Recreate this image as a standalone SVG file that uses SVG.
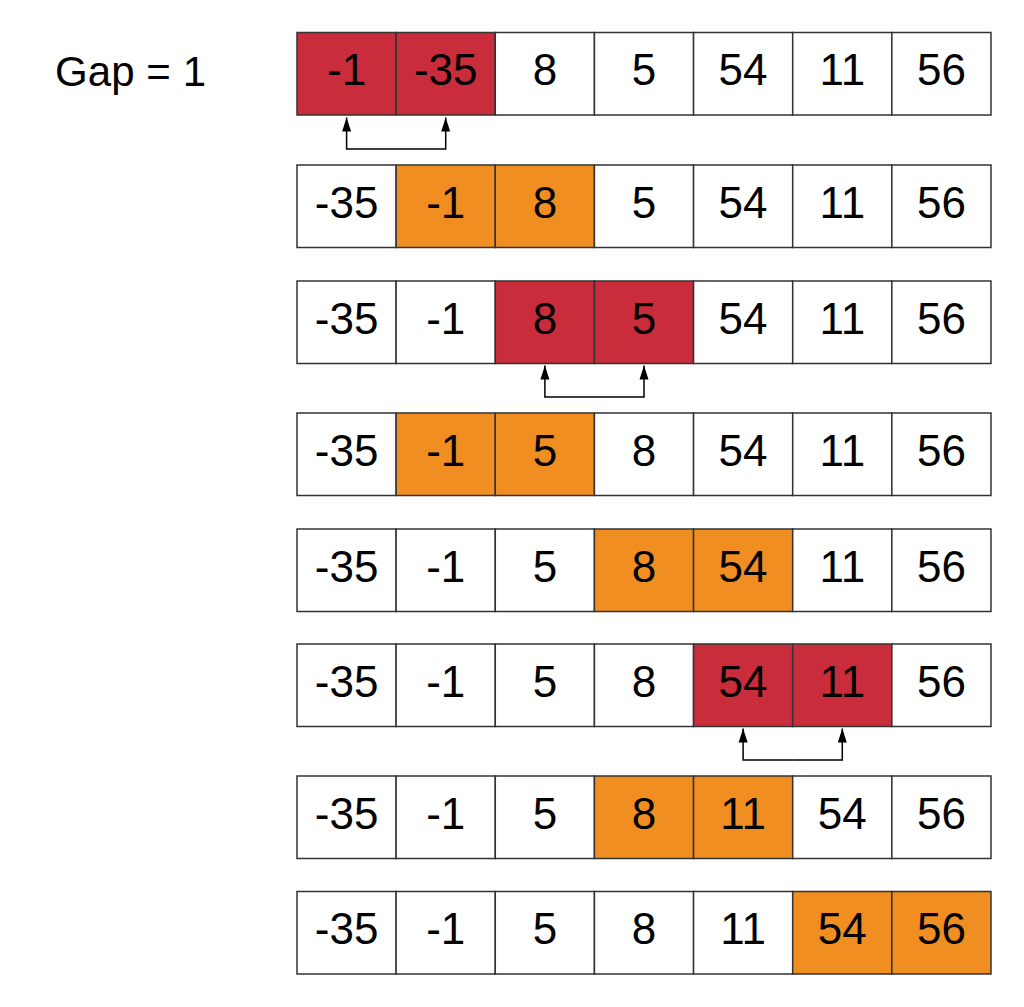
<svg xmlns="http://www.w3.org/2000/svg" width="1024" height="1007" viewBox="0 0 1024 1007">
<style>
.c{stroke:#333;stroke-width:1.5}
.w{fill:#fff}
.r{fill:#C92C3A}
.o{fill:#F08E22}
text{font-family:"Liberation Sans",Arial,sans-serif;font-size:44px;fill:#000;text-anchor:middle}
.lbl{font-size:42px;text-anchor:start}
.conn{fill:none;stroke:#000;stroke-width:1.5}
</style>
<defs>
<marker id="ah" markerUnits="userSpaceOnUse" markerWidth="15" markerHeight="10" refX="14" refY="5" orient="auto" viewBox="0 0 15 10"><path d="M0,0.5 L14,5 L0,9.5 z" fill="#000"/></marker>
</defs>
<rect width="1024" height="1007" fill="#fff"/>
<text class="lbl" x="55" y="85.5" textLength="151" lengthAdjust="spacing">Gap = 1</text>

<g id="row1">
<g id="r1c1"><rect class="c r" x="297" y="32.5" width="99.14" height="82.5"/><text x="346.6" y="85">-1</text></g>
<g id="r1c2"><rect class="c r" x="396.14" y="32.5" width="99.14" height="82.5"/><text x="445.7" y="85">-35</text></g>
<g id="r1c3"><rect class="c w" x="495.28" y="32.5" width="99.14" height="82.5"/><text x="544.9" y="85">8</text></g>
<g id="r1c4"><rect class="c w" x="594.42" y="32.5" width="99.14" height="82.5"/><text x="644" y="85">5</text></g>
<g id="r1c5"><rect class="c w" x="693.56" y="32.5" width="99.14" height="82.5"/><text x="743.1" y="85">54</text></g>
<g id="r1c6"><rect class="c w" x="792.7" y="32.5" width="99.14" height="82.5"/><text x="842.3" y="85">11</text></g>
<g id="r1c7"><rect class="c w" x="891.84" y="32.5" width="99.14" height="82.5"/><text x="941.4" y="85">56</text></g>
</g>

<g id="row2">
<g id="r2c1"><rect class="c w" x="297" y="165" width="99.14" height="82.5"/><text x="346.6" y="217.5">-35</text></g>
<g id="r2c2"><rect class="c o" x="396.14" y="165" width="99.14" height="82.5"/><text x="445.7" y="217.5">-1</text></g>
<g id="r2c3"><rect class="c o" x="495.28" y="165" width="99.14" height="82.5"/><text x="544.9" y="217.5">8</text></g>
<g id="r2c4"><rect class="c w" x="594.42" y="165" width="99.14" height="82.5"/><text x="644" y="217.5">5</text></g>
<g id="r2c5"><rect class="c w" x="693.56" y="165" width="99.14" height="82.5"/><text x="743.1" y="217.5">54</text></g>
<g id="r2c6"><rect class="c w" x="792.7" y="165" width="99.14" height="82.5"/><text x="842.3" y="217.5">11</text></g>
<g id="r2c7"><rect class="c w" x="891.84" y="165" width="99.14" height="82.5"/><text x="941.4" y="217.5">56</text></g>
</g>

<g id="row3">
<g id="r3c1"><rect class="c w" x="297" y="281" width="99.14" height="82.5"/><text x="346.6" y="333.5">-35</text></g>
<g id="r3c2"><rect class="c w" x="396.14" y="281" width="99.14" height="82.5"/><text x="445.7" y="333.5">-1</text></g>
<g id="r3c3"><rect class="c r" x="495.28" y="281" width="99.14" height="82.5"/><text x="544.9" y="333.5">8</text></g>
<g id="r3c4"><rect class="c r" x="594.42" y="281" width="99.14" height="82.5"/><text x="644" y="333.5">5</text></g>
<g id="r3c5"><rect class="c w" x="693.56" y="281" width="99.14" height="82.5"/><text x="743.1" y="333.5">54</text></g>
<g id="r3c6"><rect class="c w" x="792.7" y="281" width="99.14" height="82.5"/><text x="842.3" y="333.5">11</text></g>
<g id="r3c7"><rect class="c w" x="891.84" y="281" width="99.14" height="82.5"/><text x="941.4" y="333.5">56</text></g>
</g>

<g id="row4">
<g id="r4c1"><rect class="c w" x="297" y="413" width="99.14" height="82.5"/><text x="346.6" y="465.5">-35</text></g>
<g id="r4c2"><rect class="c o" x="396.14" y="413" width="99.14" height="82.5"/><text x="445.7" y="465.5">-1</text></g>
<g id="r4c3"><rect class="c o" x="495.28" y="413" width="99.14" height="82.5"/><text x="544.9" y="465.5">5</text></g>
<g id="r4c4"><rect class="c w" x="594.42" y="413" width="99.14" height="82.5"/><text x="644" y="465.5">8</text></g>
<g id="r4c5"><rect class="c w" x="693.56" y="413" width="99.14" height="82.5"/><text x="743.1" y="465.5">54</text></g>
<g id="r4c6"><rect class="c w" x="792.7" y="413" width="99.14" height="82.5"/><text x="842.3" y="465.5">11</text></g>
<g id="r4c7"><rect class="c w" x="891.84" y="413" width="99.14" height="82.5"/><text x="941.4" y="465.5">56</text></g>
</g>

<g id="row5">
<g id="r5c1"><rect class="c w" x="297" y="529" width="99.14" height="82.5"/><text x="346.6" y="581.5">-35</text></g>
<g id="r5c2"><rect class="c w" x="396.14" y="529" width="99.14" height="82.5"/><text x="445.7" y="581.5">-1</text></g>
<g id="r5c3"><rect class="c w" x="495.28" y="529" width="99.14" height="82.5"/><text x="544.9" y="581.5">5</text></g>
<g id="r5c4"><rect class="c o" x="594.42" y="529" width="99.14" height="82.5"/><text x="644" y="581.5">8</text></g>
<g id="r5c5"><rect class="c o" x="693.56" y="529" width="99.14" height="82.5"/><text x="743.1" y="581.5">54</text></g>
<g id="r5c6"><rect class="c w" x="792.7" y="529" width="99.14" height="82.5"/><text x="842.3" y="581.5">11</text></g>
<g id="r5c7"><rect class="c w" x="891.84" y="529" width="99.14" height="82.5"/><text x="941.4" y="581.5">56</text></g>
</g>

<g id="row6">
<g id="r6c1"><rect class="c w" x="297" y="644" width="99.14" height="82.5"/><text x="346.6" y="696.5">-35</text></g>
<g id="r6c2"><rect class="c w" x="396.14" y="644" width="99.14" height="82.5"/><text x="445.7" y="696.5">-1</text></g>
<g id="r6c3"><rect class="c w" x="495.28" y="644" width="99.14" height="82.5"/><text x="544.9" y="696.5">5</text></g>
<g id="r6c4"><rect class="c w" x="594.42" y="644" width="99.14" height="82.5"/><text x="644" y="696.5">8</text></g>
<g id="r6c5"><rect class="c r" x="693.56" y="644" width="99.14" height="82.5"/><text x="743.1" y="696.5">54</text></g>
<g id="r6c6"><rect class="c r" x="792.7" y="644" width="99.14" height="82.5"/><text x="842.3" y="696.5">11</text></g>
<g id="r6c7"><rect class="c w" x="891.84" y="644" width="99.14" height="82.5"/><text x="941.4" y="696.5">56</text></g>
</g>

<g id="row7">
<g id="r7c1"><rect class="c w" x="297" y="776" width="99.14" height="82.5"/><text x="346.6" y="828.5">-35</text></g>
<g id="r7c2"><rect class="c w" x="396.14" y="776" width="99.14" height="82.5"/><text x="445.7" y="828.5">-1</text></g>
<g id="r7c3"><rect class="c w" x="495.28" y="776" width="99.14" height="82.5"/><text x="544.9" y="828.5">5</text></g>
<g id="r7c4"><rect class="c o" x="594.42" y="776" width="99.14" height="82.5"/><text x="644" y="828.5">8</text></g>
<g id="r7c5"><rect class="c o" x="693.56" y="776" width="99.14" height="82.5"/><text x="743.1" y="828.5">11</text></g>
<g id="r7c6"><rect class="c w" x="792.7" y="776" width="99.14" height="82.5"/><text x="842.3" y="828.5">54</text></g>
<g id="r7c7"><rect class="c w" x="891.84" y="776" width="99.14" height="82.5"/><text x="941.4" y="828.5">56</text></g>
</g>

<g id="row8">
<g id="r8c1"><rect class="c w" x="297" y="891.5" width="99.14" height="82.5"/><text x="346.6" y="944">-35</text></g>
<g id="r8c2"><rect class="c w" x="396.14" y="891.5" width="99.14" height="82.5"/><text x="445.7" y="944">-1</text></g>
<g id="r8c3"><rect class="c w" x="495.28" y="891.5" width="99.14" height="82.5"/><text x="544.9" y="944">5</text></g>
<g id="r8c4"><rect class="c w" x="594.42" y="891.5" width="99.14" height="82.5"/><text x="644" y="944">8</text></g>
<g id="r8c5"><rect class="c w" x="693.56" y="891.5" width="99.14" height="82.5"/><text x="743.1" y="944">11</text></g>
<g id="r8c6"><rect class="c o" x="792.7" y="891.5" width="99.14" height="82.5"/><text x="842.3" y="944">54</text></g>
<g id="r8c7"><rect class="c o" x="891.84" y="891.5" width="99.14" height="82.5"/><text x="941.4" y="944">56</text></g>
</g>

<g id="connectors">
<path class="conn" d="M396,149 H346.6 V117.5" marker-end="url(#ah)"/>
<path class="conn" d="M396,149 H445.7 V117.5" marker-end="url(#ah)"/>
<path class="conn" d="M594,397 H544.9 V365.5" marker-end="url(#ah)"/>
<path class="conn" d="M594,397 H644 V365.5" marker-end="url(#ah)"/>
<path class="conn" d="M792.7,760 H743.1 V728.5" marker-end="url(#ah)"/>
<path class="conn" d="M792.7,760 H842.3 V728.5" marker-end="url(#ah)"/>
</g>
</svg>
